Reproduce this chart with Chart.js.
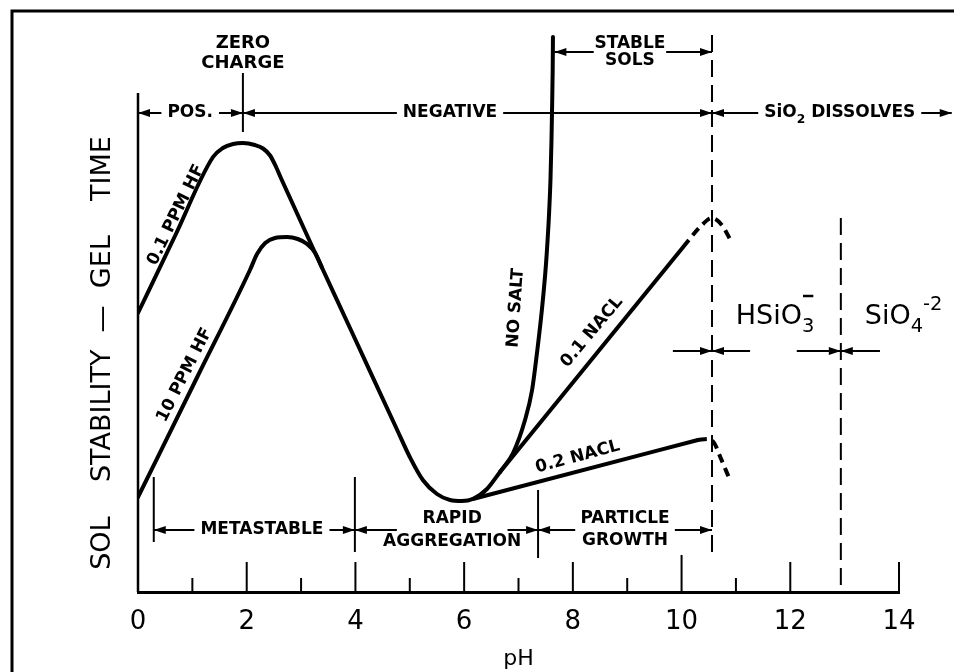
<!DOCTYPE html>
<html>
<head>
<meta charset="utf-8">
<title>Sol stability vs pH</title>
<script src="https://cdn.jsdelivr.net/npm/chart.js@4.4.1/dist/chart.umd.min.js"></script>
<style>
  html, body { margin: 0; padding: 0; background: #fff; }
  #wrap { width: 954px; height: 672px; position: relative; }
</style>
</head>
<body>
<div id="wrap"><canvas id="solChart"></canvas></div>
<script>
// values: x = pH, y = stability / gel time (arbitrary units)
const hf01PH  = [0, 0.68, 1.38, 1.56, 1.75, 1.93, 2.15, 2.30, 2.43, 2.54, 2.65, 3.20, 3.90, 4.76, 5.00, 5.24, 5.50, 5.74, 5.96, 6.16, 6.42, 6.66];
const hf01Val = [27.9, 35.6, 43.5, 44.4, 44.8, 44.9, 44.7, 44.35, 43.65, 42.5, 41.15, 34.6, 26.4, 16.3, 13.5, 11.2, 9.8, 9.2, 9.1, 9.3, 10.3, 12.0];

const hf10PH  = [0, 1.09, 2.06, 2.19, 2.34, 2.52, 2.74, 2.94, 3.11, 3.26, 3.38];
const hf10Val = [9.5, 21.5, 32.2, 33.8, 34.9, 35.4, 35.5, 35.3, 34.8, 33.9, 32.5];

const noSaltPH  = [6.66, 6.90, 7.12, 7.25, 7.34, 7.43, 7.49, 7.52, 7.561, 7.588, 7.607, 7.616, 7.629, 7.634];
const noSaltVal = [12.0, 13.9, 17.2, 20.2, 23.9, 28.2, 31.7, 33.9, 37.7, 41.2, 45.2, 47.9, 52.2, 55.5];

const nacl01PH  = [6.66, 10.03];
const nacl01Val = [12.0, 34.5];
const nacl01EndPH  = [10.03, 10.34, 10.56, 10.74, 10.93];
const nacl01EndVal = [34.5, 36.5, 37.4, 36.7, 34.9];

const nacl02PH  = [6.16, 10.30];
const nacl02Val = [9.3, 15.2];
const nacl02EndPH  = [10.30, 10.49, 10.60, 10.72, 10.89];
const nacl02EndVal = [15.2, 15.3, 14.9, 13.4, 11.2];

// boundaries on the pH axis
const zeroChargePH = 1.93;
const dissolvePH = 10.56;
const ionPH = 12.93;
const regimePH = [0.29, 3.99, 7.36, 10.56];

const majorTicks = [2, 4, 6, 8, 10, 12, 14];
const minorTicks = [1, 3, 5, 7, 9, 11];
const yAxisTop = 49.9;

function pts(xs, ys) { return xs.map((x, i) => ({ x: x, y: ys[i] })); }

// annotation rows (data units)
const chargeRow = 47.9, stableRow = 54.0, regimeRow = 6.2, ionRow = 24.1;

const zeroChargeLabel = { x: zeroChargePH, y: 53.9, lines: ['ZERO', 'CHARGE'] };
const chargeSpans = [
  { from: 0, to: zeroChargePH, at: 0.96, lines: ['POS.'] },
  { from: zeroChargePH, to: dissolvePH, at: 5.74, lines: ['NEGATIVE'] },
  { from: dissolvePH, to: 14.97, at: 12.91, lines: ['SiO_{2} DISSOLVES'] }
];
const stableSpan = { from: 7.66, to: dissolvePH, at: 9.05, lines: ['STABLE', 'SOLS'], lead: 17 };
const regimeSpans = [
  { from: regimePH[0], to: regimePH[1], at: 2.28, lines: ['METASTABLE'] },
  { from: regimePH[1], to: regimePH[2], at: 5.78, lines: ['RAPID', 'AGGREGATION'], lead: 23 },
  { from: regimePH[2], to: regimePH[3], at: 8.96, lines: ['PARTICLE', 'GROWTH'], lead: 22 }
];
const separators = [
  { x: zeroChargePH, y0: 46.0, y1: 51.9 },
  { x: regimePH[0], y0: 5.0, y1: 11.5 },
  { x: regimePH[1], y0: 4.0, y1: 11.5 },
  { x: regimePH[2], y0: 3.4, y1: 10.2 }
];
const ionArrows = [
  { at: dissolvePH, from: [9.84, 11.26] },
  { at: ionPH, from: [12.12, 13.65] }
];
const ionLabels = [
  { text: 'HSiO_{3}', over: '−', x: 11.72, y: 27.5, align: 'center' },
  { text: 'SiO_{4}^{-2}', x: 13.37, y: 27.5, align: 'left' }
];
const curveLabels = [
  { text: '0.1 PPM HF', x: 0.70, y: 37.7, angle: -64 },
  { text: '10 PPM HF', x: 0.86, y: 21.7, angle: -63 },
  { text: 'NO SALT', x: 6.95, y: 28.4, angle: -86 },
  { text: '0.1 NACL', x: 8.35, y: 26.0, angle: -50 },
  { text: '0.2 NACL', x: 8.09, y: 13.5, angle: -15 }
];

const FONT = '"DejaVu Sans", sans-serif';
const boldFont = s => 'bold ' + s + 'px ' + FONT;
const normFont = s => s + 'px ' + FONT;

// split "SiO_{2}" style text into runs
function parseRich(text) {
  const out = [];
  const re = /([_^])\{([^}]*)\}/g;
  let last = 0, m;
  while ((m = re.exec(text))) {
    if (m.index > last) out.push({ t: text.slice(last, m.index), k: 'n' });
    out.push({ t: m[2], k: m[1] === '_' ? 'sub' : 'sup' });
    last = re.lastIndex;
  }
  if (last < text.length) out.push({ t: text.slice(last), k: 'n' });
  return out;
}
function richWidth(c, text, size, weight) {
  let w = 0;
  parseRich(text).forEach(r => {
    const s = r.k === 'n' ? size : size * 0.72;
    c.font = (weight ? weight + ' ' : '') + s + 'px ' + FONT;
    w += c.measureText(r.t).width;
  });
  return w;
}
function drawRich(c, text, x, y, size, weight, align) {
  const w = richWidth(c, text, size, weight);
  let cx = align === 'left' ? x : x - w / 2;
  const pos = [];
  c.textBaseline = 'middle';
  c.textAlign = 'left';
  parseRich(text).forEach(r => {
    const s = r.k === 'n' ? size : size * 0.72;
    const dy = r.k === 'sub' ? size * 0.38 : r.k === 'sup' ? -size * 0.45 : 0;
    c.font = (weight ? weight + ' ' : '') + s + 'px ' + FONT;
    c.fillText(r.t, cx, y + dy);
    const rw = c.measureText(r.t).width;
    pos.push({ x: cx, w: rw, k: r.k });
    cx += rw;
  });
  return pos;
}

function seg(c, x1, y1, x2, y2) {
  c.beginPath(); c.moveTo(x1, y1); c.lineTo(x2, y2); c.stroke();
}
function head(c, x, y, dir) {
  c.beginPath();
  c.moveTo(x, y);
  c.lineTo(x - dir * 12, y - 4);
  c.lineTo(x - dir * 12, y + 4);
  c.closePath();
  c.fill();
}
function drawSpan(c, X, Y, span, row) {
  const y = Y(row), cx = X(span.at);
  const x1 = X(span.from), x2 = X(span.to);
  const lead = span.lead || 0;
  let widths = span.lines.map(t => richWidth(c, t, 17, 'bold'));
  const half = widths.reduce((a, b) => a + b, 0) / widths.length / 2 + 6;
  c.lineWidth = 2;
  seg(c, x1, y, cx - half, y);
  seg(c, cx + half, y, x2, y);
  head(c, x1, y, -1);
  head(c, x2, y, 1);
  span.lines.forEach((t, i) => {
    const off = span.lines.length === 1 ? 0 : (i === 0 ? -lead / 2 : lead / 2);
    drawRich(c, t, cx, y + off, 17, 'bold', 'center');
  });
}

const annotate = {
  id: 'annotate',
  afterDraw(chart) {
    const c = chart.ctx;
    const X = v => chart.scales.x.getPixelForValue(v);
    const Y = v => chart.scales.y.getPixelForValue(v);
    c.save();
    c.strokeStyle = '#000';
    c.fillStyle = '#000';
    c.lineCap = 'butt';

    // page frame
    c.lineWidth = 3;
    c.beginPath(); c.moveTo(12, 672); c.lineTo(12, 11); c.lineTo(954, 11); c.stroke();

    // y axis line (no ticks)
    c.lineWidth = 2.5;
    seg(c, X(0), Y(0), X(0), Y(yAxisTop));

    // tick marks pointing up into the plot
    c.lineWidth = 2;
    majorTicks.forEach(v => seg(c, X(v), Y(0), X(v), Y(0) - (v === 10 ? 37 : 30)));
    minorTicks.forEach(v => seg(c, X(v), Y(0), X(v), Y(0) - 14));

    // vertical separators
    separators.forEach(s => seg(c, X(s.x), Y(s.y0), X(s.x), Y(s.y1)));

    // zero charge note
    zeroChargeLabel.lines.forEach((t, i) => {
      drawRich(c, t, X(zeroChargeLabel.x), Y(zeroChargeLabel.y) + (i === 0 ? -10 : 10), 18, 'bold', 'center');
    });

    // labelled arrows
    chargeSpans.forEach(s => drawSpan(c, X, Y, s, chargeRow));
    drawSpan(c, X, Y, stableSpan, stableRow);
    regimeSpans.forEach(s => drawSpan(c, X, Y, s, regimeRow));

    // ion field arrows
    ionArrows.forEach(a => {
      a.from.forEach(f => {
        const dir = f < a.at ? 1 : -1;
        seg(c, X(f), Y(ionRow), X(a.at), Y(ionRow));
        head(c, X(a.at), Y(ionRow), dir);
      });
    });

    // ion labels
    ionLabels.forEach(l => {
      const pos = drawRich(c, l.text, X(l.x), Y(l.y), 27, '', l.align);
      if (l.over) {
        const sub = pos[pos.length - 1];
        c.lineWidth = 2.5;
        seg(c, sub.x + 1, Y(l.y) - 21, sub.x + sub.w - 1, Y(l.y) - 21);
      }
    });

    // labels along the curves
    curveLabels.forEach(l => {
      c.save();
      c.translate(X(l.x), Y(l.y));
      c.rotate(l.angle * Math.PI / 180);
      c.font = boldFont(17);
      c.textAlign = 'center';
      c.textBaseline = 'middle';
      c.fillText(l.text, 0, 0);
      c.restore();
    });

    // y axis title
    c.save();
    c.translate(X(0) - 35, Y(23.9));
    c.rotate(-Math.PI / 2);
    c.font = normFont(27);
    c.textAlign = 'center';
    c.textBaseline = 'middle';
    c.fillText('SOL    STABILITY  —  GEL    TIME', 0, 0);
    c.restore();

    c.restore();
  }
};

const solid = { borderColor: '#000', borderWidth: 4, pointRadius: 0, fill: false,
  cubicInterpolationMode: 'monotone', borderCapStyle: 'round', borderJoinStyle: 'round' };
const dashedEnd = Object.assign({}, solid, { borderDash: [9, 6], borderCapStyle: 'butt' });
const boundary = { borderColor: '#000', borderWidth: 2, pointRadius: 0, fill: false,
  tension: 0, borderDash: [17, 8] };

new Chart(document.getElementById('solChart'), {
  type: 'line',
  data: {
    datasets: [
      Object.assign({ label: '0.1 ppm HF', data: pts(hf01PH, hf01Val) }, solid),
      Object.assign({ label: '10 ppm HF', data: pts(hf10PH, hf10Val) }, solid),
      Object.assign({ label: 'No salt', data: pts(noSaltPH, noSaltVal) }, solid),
      Object.assign({ label: '0.1 NaCl', data: pts(nacl01PH, nacl01Val) }, solid),
      Object.assign({ label: '0.1 NaCl (end)', data: pts(nacl01EndPH, nacl01EndVal) }, dashedEnd),
      Object.assign({ label: '0.2 NaCl', data: pts(nacl02PH, nacl02Val) }, solid),
      Object.assign({ label: '0.2 NaCl (end)', data: pts(nacl02EndPH, nacl02EndVal) }, dashedEnd),
      Object.assign({ label: 'SiO2 dissolves', data: pts([dissolvePH, dissolvePH], [55.7, 3.2]) }, boundary),
      Object.assign({ label: 'SiO4 boundary', data: pts([ionPH, ionPH], [37.4, 0]) }, boundary)
    ]
  },
  options: {
    responsive: true,
    maintainAspectRatio: false,
    animation: false,
    layout: { padding: { left: 138, right: 55, top: 32, bottom: 0 } },
    plugins: { legend: { display: false }, tooltip: { enabled: false } },
    scales: {
      x: {
        type: 'linear',
        min: 0, max: 14,
        grid: { display: false, drawTicks: false },
        border: { display: true, color: '#000', width: 3 },
        ticks: { stepSize: 2, autoSkip: false, color: '#000', padding: 15,
          font: { family: FONT, size: 26 } },
        title: { display: true, text: 'pH', color: '#000',
          font: { family: FONT, size: 22 }, padding: { top: 0, bottom: 0 } },
        afterFit: s => { s.height = 80; }
      },
      y: { type: 'linear', display: false, min: 0, max: 56 }
    }
  },
  plugins: [annotate]
});
</script>
</body>
</html>
